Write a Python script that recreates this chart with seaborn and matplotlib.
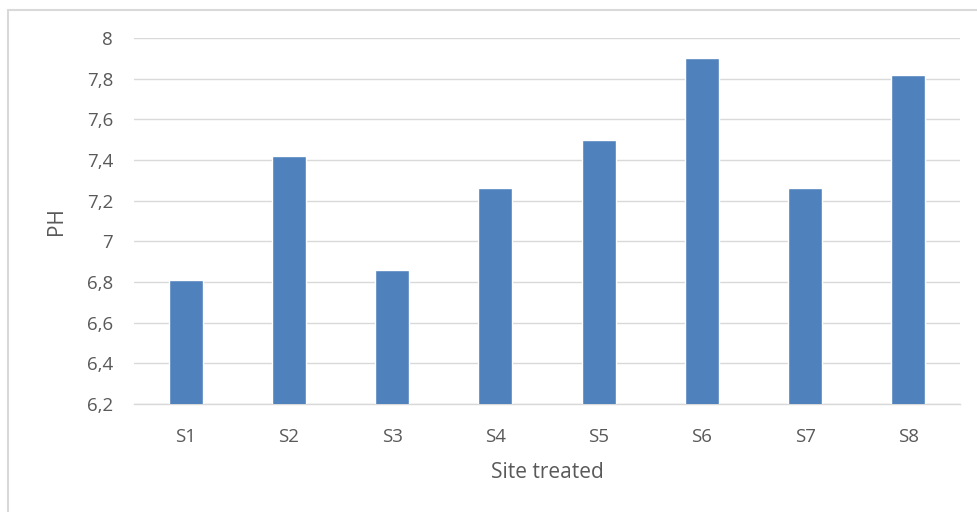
import matplotlib
matplotlib.use("Agg")
import matplotlib.pyplot as plt
from matplotlib.lines import Line2D
from matplotlib.ticker import FuncFormatter, MultipleLocator
import seaborn as sns
import pandas as pd

sites = ["S1", "S2", "S3", "S4", "S5", "S6", "S7", "S8"]
ph_values = [6.81, 7.42, 6.86, 7.26, 7.50, 7.90, 7.26, 7.82]

df = pd.DataFrame({"site": sites, "ph": ph_values})

sns.set_theme(style="white")
plt.rcParams["font.family"] = ["Open Sans", "DejaVu Sans"]

W, H = 977, 512
fig = plt.figure(figsize=(W / 100, H / 100), dpi=100)
ax = fig.add_axes([134 / W, 1 - 404 / H, (960 - 134) / W, (404 - 38) / H])

sns.barplot(data=df, x="site", y="ph", color="#4F81BD", width=0.33,
            saturation=1, ax=ax, zorder=3)

ax.set_ylim(6.2, 8.0)
ax.set_xlim(-0.5, len(sites) - 0.5)
ax.yaxis.set_major_locator(MultipleLocator(0.2))
ax.yaxis.set_major_formatter(FuncFormatter(
    lambda v, _: f"{v:.1f}".rstrip("0").rstrip(".").replace(".", ",")))

ax.grid(axis="y", color="#D9D9D9", linewidth=1, zorder=0)
ax.set_axisbelow(True)
for s in ["top", "right", "left"]:
    ax.spines[s].set_visible(False)
ax.spines["bottom"].set_color("#D9D9D9")
ax.spines["bottom"].set_linewidth(1)

ax.tick_params(axis="both", length=0, labelsize=13.5, colors="#595959")
ax.tick_params(axis="y", pad=15)
ax.tick_params(axis="x", pad=17)

ax.set_xlabel("Site treated", fontsize=15, color="#595959", labelpad=12)
ax.set_ylabel("PH", fontsize=15, color="#595959", labelpad=14)

# light frame around the chart area
frame = "#D9D9D9"
fig.add_artist(Line2D([8 / W, 8 / W], [0, 1 - 10 / H], color=frame, lw=1.5,
                      transform=fig.transFigure))
fig.add_artist(Line2D([8 / W, 1], [1 - 10 / H, 1 - 10 / H], color=frame, lw=1.5,
                      transform=fig.transFigure))

fig.savefig("out.png", dpi=100, facecolor="white")
